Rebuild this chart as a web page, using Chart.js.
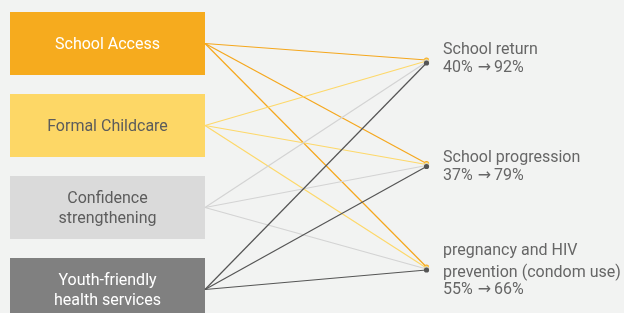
<!DOCTYPE html>
<html>
<head>
<meta charset="utf-8">
<script src="https://cdn.jsdelivr.net/npm/chart.js@4"></script>
<style>
  html, body { margin: 0; padding: 0; background: #f2f3f2; }
  #wrap { width: 624px; height: 313px; position: relative; }
</style>
</head>
<body>
<div id="wrap"><canvas id="canvas-links"></canvas></div>
<script>
// interventions on the left, outcomes on the right
const interventions = [
  ['School Access'],
  ['Formal Childcare'],
  ['Confidence', 'strengthening'],
  ['Youth-friendly', 'health services']
];
const outcomes = [
  ['School return'],
  ['School progression'],
  ['pregnancy and HIV', 'prevention (condom use)']
];
const baseline = [40, 37, 55];
const endline = [92, 79, 66];

// styling / layout
const boxColors = ['#f6ab1e', '#fdd766', '#dadada', '#808080'];
const boxText = ['#ffffff', '#5c5c5c', '#5c5c5c', '#ffffff'];
const lineColors = ['#f5a71d', '#fdd86a', '#d3d3d3', '#555555'];
const box = { left: 10, right: 205, top: 12, step: 82, height: 63 };
const target = { x: 426.5, top: 60, step: 103.5, spread: 1 };
const labelX = 443;
const labelTop = [54, 162, 254.5];   // baseline of first label line
const labelGap = [18, 18, 22];

function boxMid(i) { return box.top + i * box.step + box.height / 2; }
function targetY(j, i) { return target.top + j * target.step + i * target.spread; }

const datasets = [];
interventions.forEach(function (src, i) {
  outcomes.forEach(function (out, j) {
    datasets.push({
      data: [{ x: box.right, y: boxMid(i) }, { x: target.x, y: targetY(j, i) }],
      showLine: true,
      borderColor: lineColors[i],
      backgroundColor: lineColors[i],
      borderWidth: 1.2,
      pointRadius: [0, 2.6],
      pointBorderWidth: 0,
      order: 4 - i
    });
  });
});

const decor = {
  id: 'decor',
  beforeDatasetsDraw: function (chart) {
    const ctx = chart.ctx, x = chart.scales.x, y = chart.scales.y;
    ctx.save();
    interventions.forEach(function (lines, i) {
      const top = box.top + i * box.step;
      const x0 = x.getPixelForValue(box.left), x1 = x.getPixelForValue(box.right);
      const y0 = y.getPixelForValue(top), y1 = y.getPixelForValue(top + box.height);
      ctx.fillStyle = boxColors[i];
      ctx.fillRect(x0, y0, x1 - x0, y1 - y0);
      ctx.fillStyle = boxText[i];
      ctx.font = '16px Roboto';
      ctx.textAlign = 'center';
      ctx.textBaseline = 'alphabetic';
      const cy = y.getPixelForValue(boxMid(i));
      lines.forEach(function (t, k) {
        ctx.fillText(t, (x0 + x1) / 2, cy + 5.5 + (k - (lines.length - 1) / 2) * 20);
      });
    });
    ctx.restore();
  },
  afterDatasetsDraw: function (chart) {
    const ctx = chart.ctx, x = chart.scales.x, y = chart.scales.y;
    ctx.save();
    ctx.fillStyle = '#666666';
    ctx.textAlign = 'left';
    ctx.textBaseline = 'alphabetic';
    outcomes.forEach(function (lines, j) {
      const tx = x.getPixelForValue(labelX);
      ctx.font = '16px Roboto';
      lines.forEach(function (t, k) {
        ctx.fillText(t, tx, y.getPixelForValue(labelTop[j] + k * labelGap[j]));
      });
      // "40% → 92%"
      const ly = y.getPixelForValue(labelTop[j] + (lines.length - 1) * labelGap[j] + 17.5);
      let cx = tx;
      const a = baseline[j] + '%';
      ctx.fillText(a, cx, ly);
      cx += ctx.measureText(a).width + 5;
      ctx.font = '16px "DejaVu Sans"';
      ctx.fillText('\u2192', cx, ly);
      cx += ctx.measureText('\u2192').width + 3;
      ctx.font = '16px Roboto';
      ctx.fillText(endline[j] + '%', cx, ly);
    });
    ctx.restore();
  }
};

new Chart(document.getElementById('canvas-links'), {
  type: 'scatter',
  data: { datasets: datasets },
  options: {
    responsive: true,
    maintainAspectRatio: false,
    animation: false,
    layout: { padding: 0, autoPadding: false },
    plugins: { legend: { display: false }, tooltip: { enabled: false } },
    scales: {
      x: { type: 'linear', min: 0, max: 624, display: false },
      y: { type: 'linear', min: 0, max: 313, reverse: true, display: false }
    }
  },
  plugins: [decor]
});
</script>
</body>
</html>
